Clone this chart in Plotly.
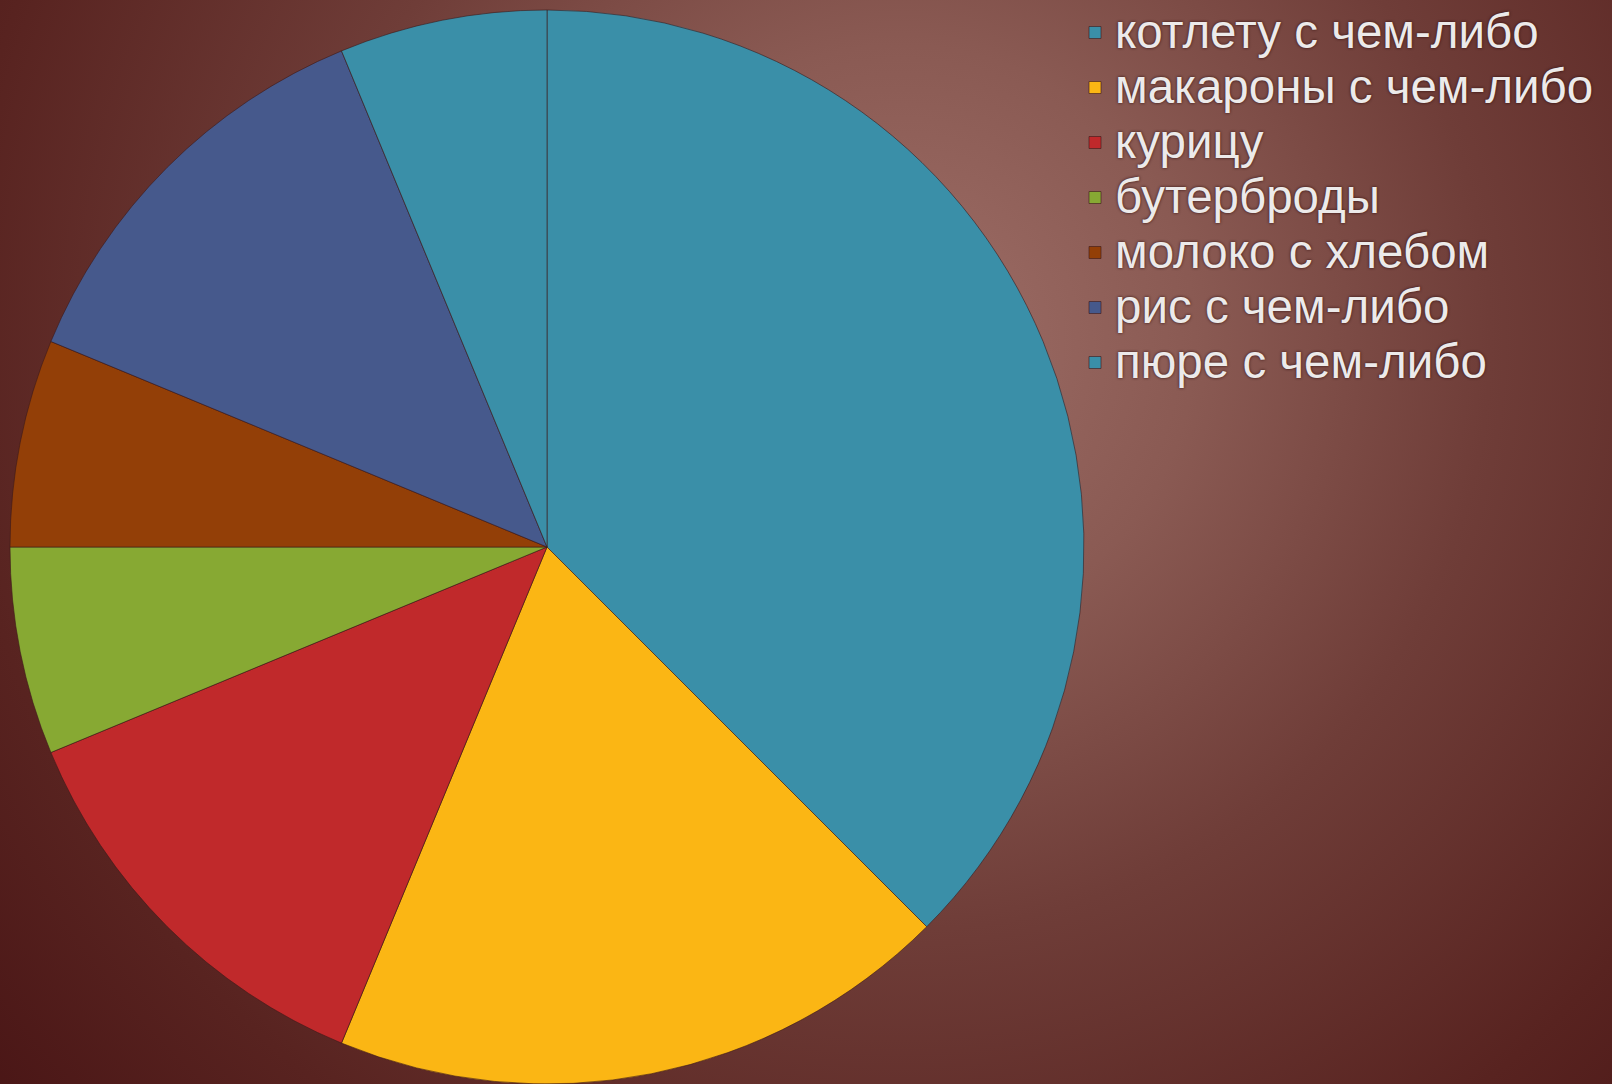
import base64
import plotly.graph_objects as go

# Survey answers: what people most often eat for dinner
labels = [
    "котлету с чем-либо",
    "макароны с чем-либо",
    "курицу",
    "бутерброды",
    "молоко с хлебом",
    "рис с чем-либо",
    "пюре с чем-либо",
]
values = [6, 3, 2, 1, 1, 2, 1]
colors = ["#3a8fa8", "#fbb614", "#c0292b", "#87a933", "#933f07", "#46598c", "#3a8fa8"]

W, H = 1612, 1084

# Radial maroon backdrop rendered as an SVG gradient image
bg_svg = f"""<svg xmlns="http://www.w3.org/2000/svg" width="{W}" height="{H}" viewBox="0 0 {W} {H}" preserveAspectRatio="none">
<defs>
<radialGradient id="g" gradientUnits="userSpaceOnUse" cx="900" cy="340" r="1180">
<stop offset="0" stop-color="#9e6e67"/>
<stop offset="0.25" stop-color="#8a5a53"/>
<stop offset="0.5" stop-color="#6f3d38"/>
<stop offset="0.8" stop-color="#582320"/>
<stop offset="1" stop-color="#4a1616"/>
</radialGradient>
</defs>
<rect x="0" y="0" width="{W}" height="{H}" fill="url(#g)"/>
</svg>"""
bg_uri = "data:image/svg+xml;base64," + base64.b64encode(bg_svg.encode("utf-8")).decode("ascii")

# Legend rows are spaced by the legend font size; the label glyphs are set larger
legend_labels = [f'<span style="font-size:47.5px">{name}</span>' for name in labels]

fig = go.Figure(
    go.Pie(
        labels=legend_labels,
        values=values,
        sort=False,
        direction="clockwise",
        rotation=0,
        textinfo="none",
        hovertemplate="%{label}: %{value} (%{percent})<extra></extra>",
        marker=dict(colors=colors, line=dict(color="rgba(60,25,25,0.6)", width=1)),
        domain=dict(x=[10 / W, 1084 / W], y=[0, 1074 / H]),
    )
)

fig.update_layout(
    width=W,
    height=H,
    margin=dict(l=0, r=0, t=0, b=0, autoexpand=False),
    paper_bgcolor="#4a1616",
    plot_bgcolor="rgba(0,0,0,0)",
    showlegend=True,
    legend=dict(
        x=1075 / W,
        y=1.0,
        xanchor="left",
        yanchor="top",
        bgcolor="rgba(0,0,0,0)",
        traceorder="normal",
        itemwidth=30,
        font=dict(
            family="Liberation Sans, Arial, sans-serif",
            size=40,
            color="#eceaea",
            shadow="0px 0px 3px rgba(40,8,8,0.9)",
        ),
    ),
    images=[
        dict(
            source=bg_uri,
            xref="paper",
            yref="paper",
            x=0,
            y=1,
            sizex=1,
            sizey=1,
            xanchor="left",
            yanchor="top",
            sizing="stretch",
            layer="below",
        )
    ],
)

fig.write_html("out.html")
